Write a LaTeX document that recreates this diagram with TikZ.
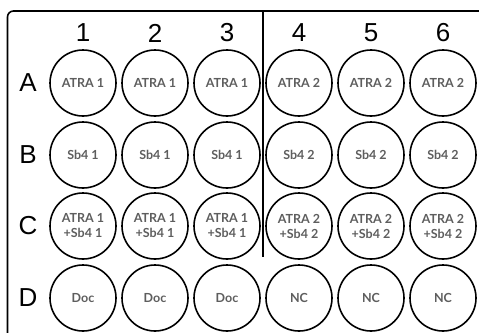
\documentclass[tikz,border=0pt]{standalone}
\usepackage{fontspec}
\setmainfont{Liberation Sans}
\newfontfamily\lato{Lato}
\usetikzlibrary{positioning}
\definecolor{txtgrey}{HTML}{5E5E5E}

\begin{document}
\begin{tikzpicture}[x=1pt, y=-1pt,
  well/.style={draw, circle, line width=1.6pt, minimum size=66pt, inner sep=0pt,
               align=center, text=txtgrey, font=\lato\bfseries\fontsize{12.5}{15}\selectfont},
  hdr/.style={font=\fontsize{26}{26}\selectfont},
  frm/.style={line width=1.6pt, rounded corners=6pt}]
\clip (0,0) rectangle (479,332);
\draw[frm] (7.5,11) rectangle (520,360);
% column and row headers
\foreach \c/\x in {1/83,2/155,3/227,4/299,5/371,6/443}
  \node[hdr] (col\c) at (\x,33) {\c};
\foreach \r/\y in {A/83,B/155,C/226,D/298}
  \node[hdr] (row\r) at (28,\y) {\r};
% wells
\foreach \c/\x/\g/\t in {1/83/1/Doc,2/155/1/Doc,3/227/1/Doc,4/299/2/NC,5/371/2/NC,6/443/2/NC} {
  \node[well] (A\c) at (\x,83) {ATRA \g};
  \node[well] (B\c) at (\x,155) {Sb4 \g};
  \node[well] (C\c) at (\x,226) {ATRA \g\\+Sb4 \g};
  \node[well] (D\c) at (\x,298) {\t};
}
% divider between 1 and 2
\coordinate (divtop) at (263,11);
\coordinate (divbot) at (263,257);
\draw[line width=1.6pt] (divtop) -- (divbot);
\end{tikzpicture}
\end{document}
